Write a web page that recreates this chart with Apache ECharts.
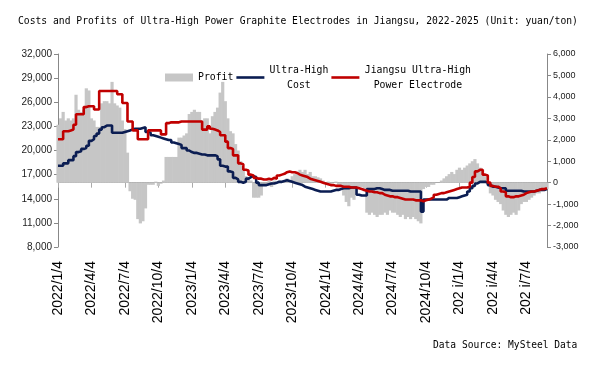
<!DOCTYPE html>
<html><head><meta charset="utf-8">
<script src="https://cdn.jsdelivr.net/npm/echarts@6/dist/echarts.min.js"></script>
<style>html,body{margin:0;padding:0;background:#fff}#c{width:600px;height:386px}</style>
</head><body><div id="c"></div>
<script>
// weekly observations starting 2022/1/4
const startDate = '2022-01-04';
const tickLabels = ['2022/1/4','2022/4/4','2022/7/4','2022/10/4','2023/1/4','2023/4/4','2023/7/4','2023/10/4','2024/1/4','2024/4/4','2024/7/4','2024/10/4','202 i/1/4','202 i/4/4','202 i/7/4'];
const costValues = [18100,18100,18400,18400,18800,18800,19300,19800,19900,20200,20300,20600,21200,21400,21800,22100,22600,22900,23100,23100,23100,22200,22200,22200,22200,22300,22400,22500,22600,22700,22700,22700,22800,22900,22300,22200,21900,21800,21700,21600,21500,21400,21300,21300,21000,20900,20800,20700,20300,20300,20000,19800,19700,19700,19600,19500,19500,19400,19400,19400,19400,19300,18900,18100,18000,18000,17400,17300,16600,16400,16100,16000,16100,16500,16700,16800,16700,16000,15700,15700,15700,15800,15900,15900,16000,16100,16100,16200,16300,16200,16100,16000,15900,15800,15700,15500,15400,15300,15200,15100,15000,14900,14900,14900,14900,14900,15000,15100,15100,15200,15300,15300,15300,15400,15400,15400,14500,14400,14400,14400,15200,15200,15200,15300,15300,15200,15100,15100,15100,15000,15000,15000,15000,15000,15000,15000,14900,14900,14900,14900,14900,12400,13900,13900,13900,13900,13900,13900,13900,13900,13900,14100,14100,14100,14100,14200,14300,14400,14500,14900,15300,15600,15900,16100,16100,16100,16000,15700,15500,15500,15400,15300,15300,15300,15000,15000,15000,15000,15000,15000,14900,14900,14900,14900,14900,15000,15100,15100,15100,15200,15200];
const priceValues = [21400,21400,22400,22400,22500,22600,23200,24500,24500,24500,25400,25500,25500,25500,25100,25100,27400,27400,27400,27400,27400,27400,27400,27000,27000,25900,25900,23600,23600,22500,22500,21400,21400,21400,21400,22500,22500,22500,22500,22500,22000,22000,23400,23500,23500,23500,23500,23600,23600,23600,23600,23600,23600,23600,23600,23600,22600,22600,23000,22700,22600,22500,22300,21900,21900,21100,20300,20200,19400,19400,18400,18300,17600,17500,17000,16900,16600,16500,16500,16400,16400,16500,16400,16600,16500,16900,17000,17100,17300,17400,17300,17300,17200,17000,16900,16800,16700,16500,16400,16300,16200,16100,16000,15900,15800,15700,15700,15600,15600,15600,15500,15500,15500,15400,15400,15400,15300,15200,15100,15000,14900,14900,14800,14800,14700,14700,14500,14400,14300,14300,14200,14200,14100,14000,13900,13900,13900,13900,13800,13800,13800,13700,13800,13900,14000,14200,14500,14600,14700,14700,14800,14900,15000,15100,15200,15300,15400,15400,15400,15500,16000,16700,17400,17600,17600,17000,16900,16000,15600,15500,15500,15300,14900,14800,14300,14200,14200,14300,14300,14400,14500,14700,14800,14900,14900,15000,15100,15200,15200,15300,15300];
const profitValues = [2700,3000,3300,2900,3000,2900,3000,4100,3400,3300,3400,4400,4300,3000,2900,2600,2600,3700,3800,3800,3700,4700,3700,3600,3500,2900,2500,1400,-400,-750,-800,-1700,-1900,-1800,-1200,-100,-100,-100,50,-150,-50,100,1200,1200,1200,1200,1200,2100,2100,2200,2300,3200,3300,3400,3300,3300,2900,3000,3000,2300,3100,3300,3500,4200,4700,3800,3000,2400,2300,1800,1500,1000,600,300,200,100,-700,-700,-700,-600,-100,-100,100,-200,100,0,100,0,100,200,100,300,400,500,600,500,600,400,500,300,300,250,200,100,0,50,-50,0,50,-100,-200,-600,-900,-1100,-700,-800,-300,-200,-200,-400,-1400,-1500,-1400,-1500,-1600,-1500,-1500,-1400,-1500,-1300,-1400,-1400,-1500,-1600,-1500,-1700,-1600,-1700,-1600,-1700,-1800,-1900,-300,-200,-200,-100,-100,0,0,100,200,300,400,500,400,600,700,600,700,800,900,1000,1100,900,700,600,300,0,-500,-600,-800,-900,-1000,-1300,-1500,-1600,-1500,-1400,-1500,-1300,-1000,-900,-900,-800,-700,-600,-500,-500,-400,-300,-300];
const seriesNames = ['Profit','Ultra-High Cost','Jiangsu Ultra-High Power Electrode'];

const categories = [];
(function(){
  const d0 = new Date(startDate + 'T00:00:00Z');
  for (let i = 0; i < costValues.length; i++) {
    const d = new Date(d0.getTime() + i * 7 * 86400000);
    categories.push(d.getUTCFullYear() + '/' + (d.getUTCMonth()+1) + '/' + d.getUTCDate());
  }
})();
const TICK_STEP = 13;
const mono = 'DejaVu Sans Mono';
const lineIcon = 'path://M0,0H28V2.6H0Z';

const chart = echarts.init(document.getElementById('c'), null, {renderer:'canvas'});
chart.setOption({
  animation: false,
  backgroundColor: '#fff',
  title: {
    text: 'Costs and Profits of Ultra-High Power Graphite Electrodes in Jiangsu, 2022-2025 (Unit: yuan/ton)',
    left: 18, top: 16, padding: 0,
    textStyle: {fontFamily: mono, fontSize: 9.7, fontWeight: 'normal', color: '#000'}
  },
  legend: {
    left: 165, top: 65, padding: 0, itemGap: 3, itemWidth: 28, itemHeight: 8, symbolKeepAspect: true,
    data: [
      {name: seriesNames[0], icon: 'rect'},
      {name: seriesNames[1], icon: lineIcon},
      {name: seriesNames[2], icon: lineIcon}
    ],
    formatter: function(n){
      if (n === seriesNames[1]) return '{c|Ultra-High}\n{c|Cost}';
      if (n === seriesNames[2]) return '{p|Jiangsu Ultra-High}\n{p|Power Electrode}';
      return '{s|' + n + '}';
    },
    textStyle: {
      fontFamily: mono, fontSize: 9.8, color: '#000',
      rich: {
        c: {width: 59, align: 'center', fontFamily: mono, fontSize: 9.8, lineHeight: 15, color: '#000'},
        p: {width: 107, align: 'center', fontFamily: mono, fontSize: 9.8, lineHeight: 15, color: '#000'},
        s: {fontFamily: mono, fontSize: 9.8, lineHeight: 15, color: '#000'}
      }
    }
  },
  grid: {left: 58, right: 53, top: 54, bottom: 139, containLabel: false},
  xAxis: {
    type: 'category', data: categories, boundaryGap: false,
    axisLine: {lineStyle: {color: '#aaa', width: 1}},
    axisTick: {show: true, length: 5, interval: function(i){return i % TICK_STEP === 0;}, lineStyle: {color: '#aaa'}},
    axisLabel: {
      rotate: 90, margin: 14, fontFamily: 'Liberation Sans', fontSize: 14, color: '#000',
      interval: function(i){return i % TICK_STEP === 0;},
      formatter: function(v, i){ return tickLabels[Math.round(i / TICK_STEP)] || ''; }
    },
    splitLine: {show: false}
  },
  yAxis: [
    {type: 'value', min: 8000, max: 32000, interval: 3000,
     axisLine: {show: true, lineStyle: {color: '#888'}},
     axisTick: {show: true, length: 4, lineStyle: {color: '#888'}},
     axisLabel: {fontFamily: 'Liberation Sans', fontSize: 10, color: '#222', margin: 6},
     splitLine: {show: false}},
    {type: 'value', min: -3000, max: 6000, interval: 1000, position: 'right',
     axisLine: {show: true, lineStyle: {color: '#888'}},
     axisTick: {show: true, length: 4, lineStyle: {color: '#888'}},
     axisLabel: {fontFamily: 'Liberation Sans', fontSize: 9, color: '#222', margin: 6},
     splitLine: {show: false}}
  ],
  series: [
    {name: seriesNames[0], type: 'bar', yAxisIndex: 1, data: profitValues,
     barWidth: 3.2, itemStyle: {color: '#c6c6c6'}, z: 1},
    {name: seriesNames[1], type: 'line', yAxisIndex: 0, data: costValues, step: 'end',
     showSymbol: false, symbol: 'none', lineStyle: {color: '#0b1d52', width: 2.6}, itemStyle: {color: '#0b1d52'}, z: 3},
    {name: seriesNames[2], type: 'line', yAxisIndex: 0, data: priceValues, step: 'end',
     showSymbol: false, symbol: 'none', lineStyle: {color: '#c00000', width: 2.6}, itemStyle: {color: '#c00000'}, z: 4}
  ],
  graphic: [
    {type: 'text', left: 433, top: 340, style: {text: 'Data Source: MySteel Data', fontFamily: mono, fontSize: 9.6, fill: '#000'}}
  ]
});
</script></body></html>
